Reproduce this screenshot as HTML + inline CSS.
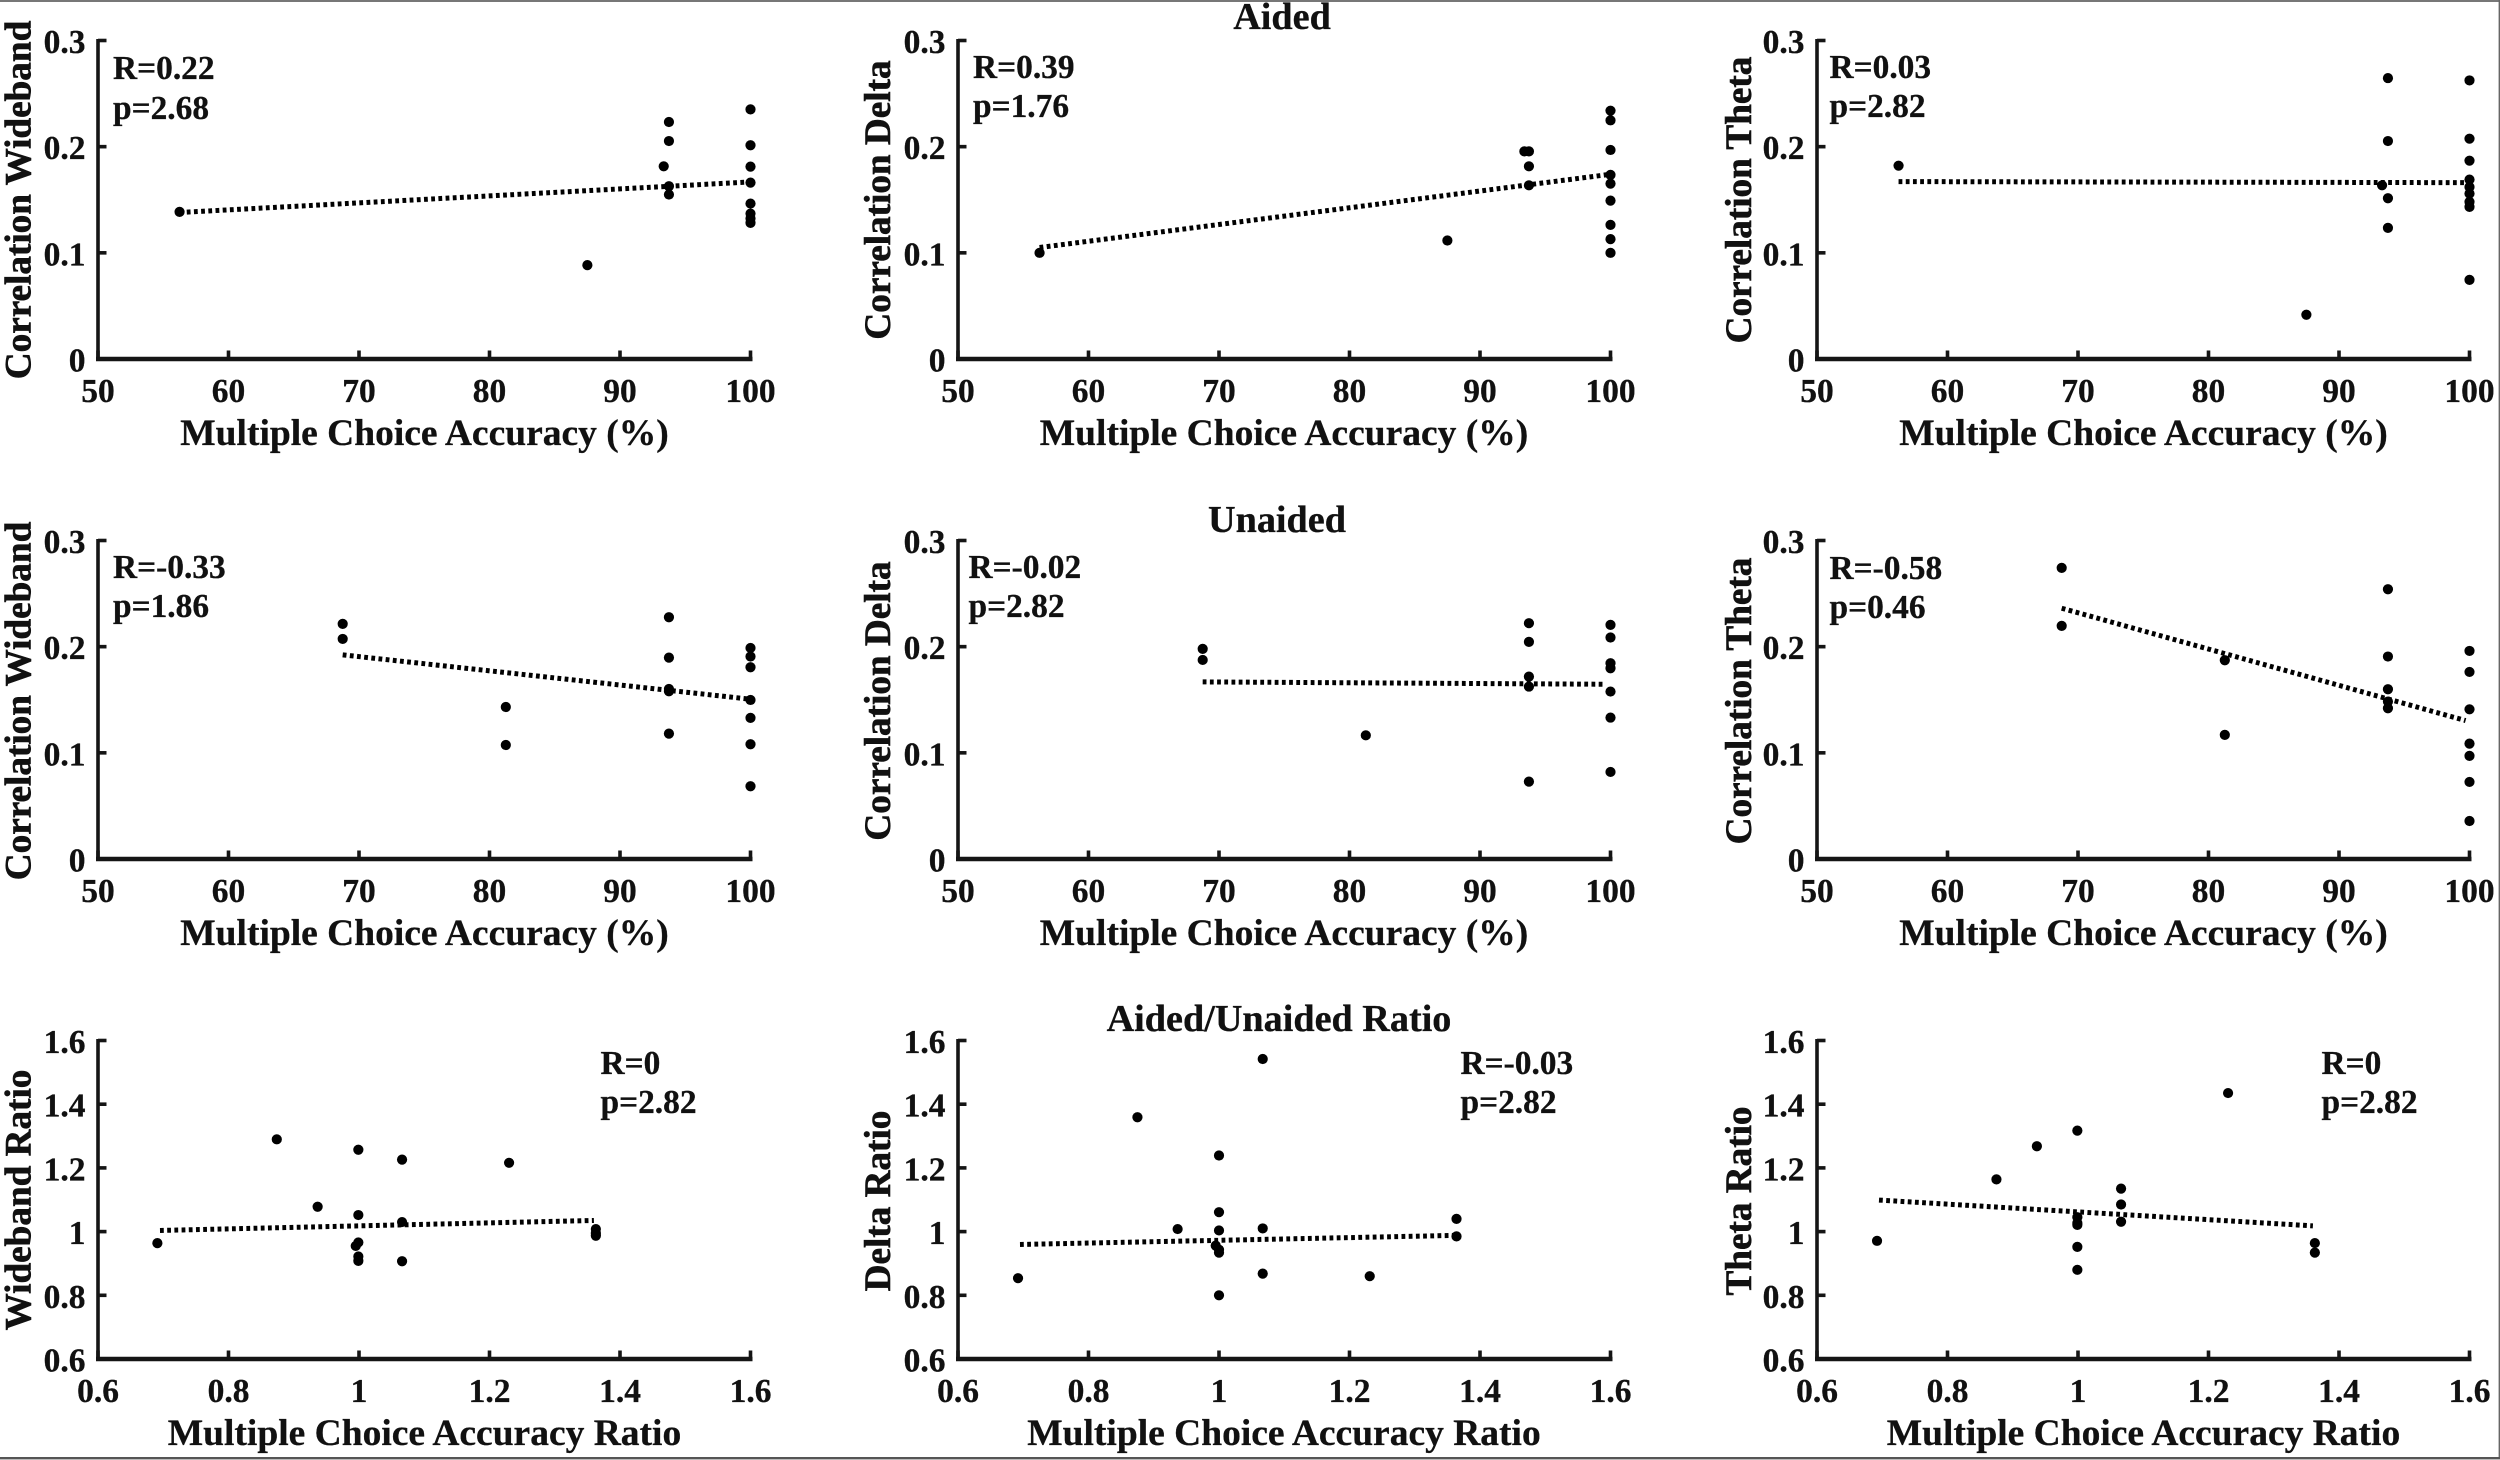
<!DOCTYPE html>
<html lang="en">
<head>
<meta charset="utf-8">
<title>Correlation vs Multiple Choice Accuracy</title>
<style>
html,body{margin:0;padding:0;background:#fff;width:2500px;height:1460px;overflow:hidden}
svg{display:block}
text{font-family:"Liberation Serif",serif;font-weight:bold;fill:#111;stroke:#111;stroke-width:.3px}
.t{font-size:38.2px;text-anchor:middle}
.xl{font-size:37.5px;text-anchor:middle}
.yl{font-size:37.2px;text-anchor:middle;stroke-width:.6px}
.an{font-size:33.4px}
</style>
</head>
<body>
<svg id="figure" width="2500" height="1460" viewBox="0 0 2500 1460" xmlns="http://www.w3.org/2000/svg">
  <rect x="0" y="0" width="2500" height="1460" fill="#fff"/>
  <rect x="0" y="0" width="2500" height="2" fill="#777"/>
  <rect x="2498.6" y="0" width="1.4" height="1458" fill="#666"/>
  <rect x="0" y="1457" width="2500" height="2.4" fill="#555"/>

  <text class="t" x="1282" y="29">Aided</text>
  <text class="t" x="1277" y="532">Unaided</text>
  <text class="t" x="1279" y="1031">Aided/Unaided Ratio</text>

  <g id="p0">
    <text class="yl" transform="translate(30.5,200) rotate(-90)">Correlation Wideband</text>
    <text class="xl" x="424.5" y="445">Multiple Choice Accuracy (%)</text>
    <text class="an" x="113" y="79">R=0.22</text>
    <text class="an" x="113" y="119">p=2.68</text>
  </g>
  <g id="p1">
    <text class="yl" transform="translate(890,200) rotate(-90)">Correlation Delta</text>
    <text class="xl" x="1284" y="445">Multiple Choice Accuracy (%)</text>
    <text class="an" x="973" y="78">R=0.39</text>
    <text class="an" x="973" y="117">p=1.76</text>
  </g>
  <g id="p2">
    <text class="yl" transform="translate(1751,200) rotate(-90)">Correlation Theta</text>
    <text class="xl" x="2143.5" y="445">Multiple Choice Accuracy (%)</text>
    <text class="an" x="1829.5" y="78">R=0.03</text>
    <text class="an" x="1829.5" y="117">p=2.82</text>
  </g>
  <g id="p3">
    <text class="yl" transform="translate(30.5,701) rotate(-90)">Correlation Wideband</text>
    <text class="xl" x="424.5" y="945">Multiple Choice Accuracy (%)</text>
    <text class="an" x="113" y="578">R=-0.33</text>
    <text class="an" x="113" y="617">p=1.86</text>
  </g>
  <g id="p4">
    <text class="yl" transform="translate(890,701) rotate(-90)">Correlation Delta</text>
    <text class="xl" x="1284" y="945">Multiple Choice Accuracy (%)</text>
    <text class="an" x="968.5" y="578">R=-0.02</text>
    <text class="an" x="968.5" y="617">p=2.82</text>
  </g>
  <g id="p5">
    <text class="yl" transform="translate(1751,701) rotate(-90)">Correlation Theta</text>
    <text class="xl" x="2143.5" y="945">Multiple Choice Accuracy (%)</text>
    <text class="an" x="1829.5" y="579">R=-0.58</text>
    <text class="an" x="1829.5" y="618">p=0.46</text>
  </g>
  <g id="p6">
    <text class="yl" transform="translate(30.5,1200) rotate(-90)">Wideband Ratio</text>
    <text class="xl" x="424.5" y="1445">Multiple Choice Accuracy Ratio</text>
    <text class="an" x="600.5" y="1074">R=0</text>
    <text class="an" x="600.5" y="1113">p=2.82</text>
  </g>
  <g id="p7">
    <text class="yl" transform="translate(890,1201) rotate(-90)">Delta Ratio</text>
    <text class="xl" x="1284" y="1445">Multiple Choice Accuracy Ratio</text>
    <text class="an" x="1460.5" y="1074">R=-0.03</text>
    <text class="an" x="1460.5" y="1113">p=2.82</text>
  </g>
  <g id="p8">
    <text class="yl" transform="translate(1751,1201) rotate(-90)">Theta Ratio</text>
    <text class="xl" x="2143.5" y="1445">Multiple Choice Accuracy Ratio</text>
    <text class="an" x="2321.5" y="1074">R=0</text>
    <text class="an" x="2321.5" y="1113">p=2.82</text>
  </g>
</svg>
<script>
// Axis ticks
const percentTicks = [50, 60, 70, 80, 90, 100];
const percentTickLabels = ['50', '60', '70', '80', '90', '100'];
const correlationTicks = [0, 0.1, 0.2, 0.3];
const correlationTickLabels = ['0', '0.1', '0.2', '0.3'];
const ratioTicks = [0.6, 0.8, 1, 1.2, 1.4, 1.6];
const ratioTickLabels = ['0.6', '0.8', '1', '1.2', '1.4', '1.6'];

// Aided wideband
const aidedWidebandX = [56.25, 87.5, 93.35, 93.75, 93.75, 93.75, 93.75, 100, 100, 100, 100, 100, 100, 100, 100];
const aidedWidebandY = [0.1386, 0.0884, 0.1815, 0.2232, 0.2053, 0.1627, 0.1549, 0.2351, 0.2013, 0.1812, 0.1661, 0.1464, 0.137, 0.1323, 0.1282];
const aidedWidebandTrendX = [56.25, 100];
const aidedWidebandTrendY = [0.138, 0.1668];

// Aided delta
const aidedDeltaX = [56.25, 87.5, 93.4, 93.75, 93.75, 93.75, 100, 100, 100, 100, 100, 100, 100, 100, 100];
const aidedDeltaY = [0.1, 0.1116, 0.1956, 0.1956, 0.1815, 0.1636, 0.2339, 0.2248, 0.1969, 0.1734, 0.1652, 0.1492, 0.1263, 0.1129, 0.1];
const aidedDeltaTrendX = [56.25, 100];
const aidedDeltaTrendY = [0.105, 0.174];

// Aided theta
const aidedThetaX = [56.25, 87.5, 93.3, 93.75, 93.75, 93.75, 93.75, 100, 100, 100, 100, 100, 100, 100, 100, 100];
const aidedThetaY = [0.1821, 0.0417, 0.1636, 0.2646, 0.2053, 0.1514, 0.1235, 0.2624, 0.2075, 0.1868, 0.169, 0.162, 0.1558, 0.148, 0.1433, 0.0745];
const aidedThetaTrendX = [56.25, 100];
const aidedThetaTrendY = [0.1671, 0.1661];

// Unaided wideband
const unaidedWidebandX = [68.75, 68.75, 81.25, 81.25, 93.75, 93.75, 93.75, 93.75, 93.75, 100, 100, 100, 100, 100, 100, 100];
const unaidedWidebandY = [0.2215, 0.2073, 0.1432, 0.1074, 0.2277, 0.1897, 0.1602, 0.158, 0.1181, 0.1988, 0.1907, 0.1806, 0.1498, 0.1329, 0.1081, 0.0685];
const unaidedWidebandTrendX = [68.75, 100];
const unaidedWidebandTrendY = [0.1923, 0.1505];

// Unaided delta
const unaidedDeltaX = [68.75, 68.75, 81.25, 93.75, 93.75, 93.75, 93.75, 93.75, 100, 100, 100, 100, 100, 100, 100];
const unaidedDeltaY = [0.1979, 0.1875, 0.1165, 0.2221, 0.2045, 0.1718, 0.1624, 0.0729, 0.2205, 0.2086, 0.1844, 0.1797, 0.1577, 0.1332, 0.082];
const unaidedDeltaTrendX = [68.75, 99.6];
const unaidedDeltaTrendY = [0.1668, 0.1646];

// Unaided theta
const unaidedThetaX = [68.75, 68.75, 81.25, 81.25, 93.75, 93.75, 93.75, 93.75, 93.75, 100, 100, 100, 100, 100, 100, 100];
const unaidedThetaY = [0.2742, 0.2196, 0.1872, 0.1169, 0.2541, 0.1907, 0.1599, 0.1483, 0.142, 0.196, 0.1762, 0.141, 0.1087, 0.0971, 0.0726, 0.0358];
const unaidedThetaTrendX = [68.75, 99.7];
const unaidedThetaTrendY = [0.2362, 0.1304];

// Ratio wideband
const ratioWidebandX = [0.691, 0.874, 0.9366, 0.995, 0.999, 0.999, 0.999, 0.999, 0.999, 1.066, 1.066, 1.066, 1.23, 1.363, 1.363, 1.363];
const ratioWidebandY = [0.9637, 1.2897, 1.078, 0.955, 0.966, 1.257, 1.052, 0.922, 0.908, 1.226, 1.03, 0.907, 1.216, 1.008, 0.995, 0.987];
const ratioWidebandTrendX = [0.695, 1.36];
const ratioWidebandTrendY = [1.0036, 1.035];

// Ratio delta
const ratioDeltaX = [0.692, 0.875, 0.9366, 0.995, 1, 1, 1, 1, 1, 1, 1.067, 1.067, 1.067, 1.231, 1.364, 1.364];
const ratioDeltaY = [0.8537, 1.359, 1.008, 0.956, 1.239, 1.061, 1.0036, 0.943, 0.934, 0.8, 1.542, 1.01, 0.868, 0.86, 1.04, 0.985];
const ratioDeltaTrendX = [0.695, 1.36];
const ratioDeltaTrendY = [0.9596, 0.988];

// Ratio theta
const ratioThetaX = [0.692, 0.875, 0.937, 0.999, 0.999, 0.999, 0.999, 0.999, 0.999, 1.066, 1.066, 1.066, 1.23, 1.363, 1.363];
const ratioThetaY = [0.971, 1.164, 1.268, 1.317, 1.045, 1.027, 1.021, 0.952, 0.88, 1.135, 1.085, 1.031, 1.435, 0.964, 0.934];
const ratioThetaTrendX = [0.695, 1.36];
const ratioThetaTrendY = [1.099, 1.018];

const SVG_NS = 'http://www.w3.org/2000/svg';
const columnLeft = [98, 958, 1817];
const rowTop = [40.5, 540.5, 1040.5];
const plotWidth = 652.5;
const plotHeight = 318.5;

function make(parent, tag, attrs) {
  const el = document.createElementNS(SVG_NS, tag);
  for (const k in attrs) el.setAttribute(k, attrs[k]);
  parent.appendChild(el);
  return el;
}

function drawPanel(index, xs, ys, trendXs, trendYs, xTicks, xLabels, yTicks, yLabels) {
  const g = document.getElementById('p' + index);
  const left = columnLeft[index % 3];
  const top = rowTop[Math.floor(index / 3)];
  const bottom = top + plotHeight;
  const xMin = xTicks[0], xMax = xTicks[xTicks.length - 1];
  const yMin = yTicks[0], yMax = yTicks[yTicks.length - 1];
  const sx = v => left + (v - xMin) / (xMax - xMin) * plotWidth;
  const sy = v => bottom - (v - yMin) / (yMax - yMin) * plotHeight;

  const yAxis = make(g, 'line', {x1: left, x2: left, y1: top - 1.5, y2: bottom + 2, stroke: '#151515', 'stroke-width': 3.6});
  
  
  const xAxis = make(g, 'line', {x1: left - 2, x2: left + plotWidth + 2, y1: bottom, y2: bottom, stroke: '#151515', 'stroke-width': 4.4});
  
  

  xTicks.forEach((t, i) => {
    const tick = make(g, 'line', {x1: sx(t), x2: sx(t), y1: bottom, y2: bottom - 8.5, stroke: '#151515', 'stroke-width': 3.6});
    
    
    const label = make(g, 'text', {x: sx(t), y: bottom + 43, 'font-size': 33.5, 'text-anchor': 'middle'});
    label.textContent = xLabels[i];
    
    
  });
  yTicks.forEach((t, i) => {
    const tick = make(g, 'line', {x1: left, x2: left + 8.5, y1: sy(t), y2: sy(t), stroke: '#151515', 'stroke-width': 3.6});
    
    
    const label = make(g, 'text', {x: left - 12.5, y: sy(t) + 12.5, 'font-size': 33.5, 'text-anchor': 'end'});
    label.textContent = yLabels[i];
    
    
  });

  const trend = make(g, 'line', {x1: sx(trendXs[0]), y1: sy(trendYs[0]), x2: sx(trendXs[1]), y2: sy(trendYs[1]), stroke: '#000', 'stroke-width': 5, 'stroke-dasharray': '3.8 3.4'});
  
  

  xs.forEach((x, i) => {
    const dot = make(g, 'circle', {cx: sx(x), cy: sy(ys[i]), r: 5.1, fill: '#000'});
    
    
  });
}

drawPanel(0, aidedWidebandX, aidedWidebandY, aidedWidebandTrendX, aidedWidebandTrendY, percentTicks, percentTickLabels, correlationTicks, correlationTickLabels);
drawPanel(1, aidedDeltaX, aidedDeltaY, aidedDeltaTrendX, aidedDeltaTrendY, percentTicks, percentTickLabels, correlationTicks, correlationTickLabels);
drawPanel(2, aidedThetaX, aidedThetaY, aidedThetaTrendX, aidedThetaTrendY, percentTicks, percentTickLabels, correlationTicks, correlationTickLabels);
drawPanel(3, unaidedWidebandX, unaidedWidebandY, unaidedWidebandTrendX, unaidedWidebandTrendY, percentTicks, percentTickLabels, correlationTicks, correlationTickLabels);
drawPanel(4, unaidedDeltaX, unaidedDeltaY, unaidedDeltaTrendX, unaidedDeltaTrendY, percentTicks, percentTickLabels, correlationTicks, correlationTickLabels);
drawPanel(5, unaidedThetaX, unaidedThetaY, unaidedThetaTrendX, unaidedThetaTrendY, percentTicks, percentTickLabels, correlationTicks, correlationTickLabels);
drawPanel(6, ratioWidebandX, ratioWidebandY, ratioWidebandTrendX, ratioWidebandTrendY, ratioTicks, ratioTickLabels, ratioTicks, ratioTickLabels);
drawPanel(7, ratioDeltaX, ratioDeltaY, ratioDeltaTrendX, ratioDeltaTrendY, ratioTicks, ratioTickLabels, ratioTicks, ratioTickLabels);
drawPanel(8, ratioThetaX, ratioThetaY, ratioThetaTrendX, ratioThetaTrendY, ratioTicks, ratioTickLabels, ratioTicks, ratioTickLabels);
</script>
</body>
</html>
